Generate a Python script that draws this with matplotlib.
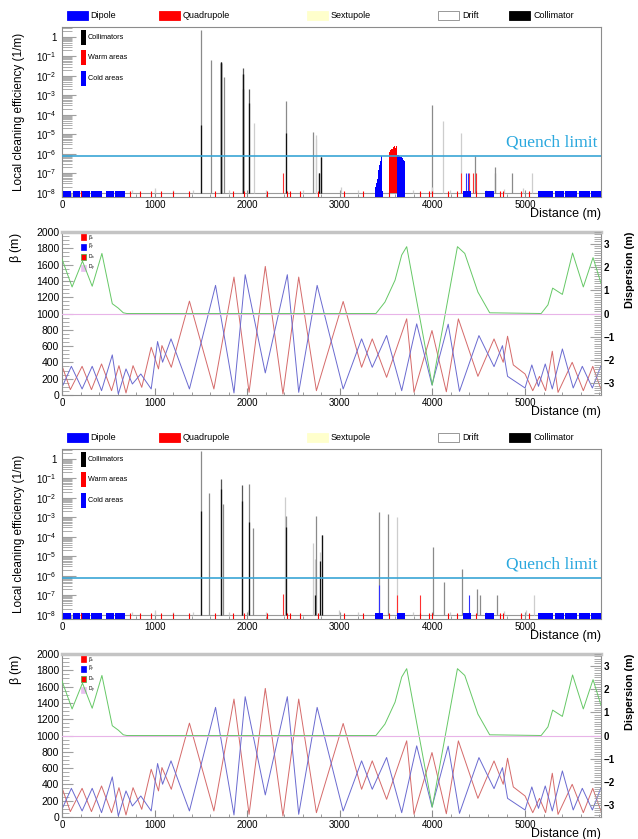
import matplotlib
matplotlib.use('Agg')
import matplotlib.pyplot as plt
from matplotlib.patches import Rectangle
from matplotlib.ticker import MultipleLocator, FixedLocator, FuncFormatter, LogLocator, NullFormatter
import numpy as np

plt.rcParams['font.family'] = ['Liberation Sans', 'DejaVu Sans']
plt.rcParams['mathtext.fontset'] = 'custom'
plt.rcParams['mathtext.rm'] = 'Liberation Sans'
plt.rcParams['mathtext.it'] = 'Liberation Sans:italic'
plt.rcParams['mathtext.default'] = 'regular'

S_MAX = 5820
QUENCH = 7.5e-7

# ---- machine layout (bottom band of the loss maps)
dipole_segs = [(9, 100), (115, 190), (205, 300), (315, 427), (471, 560), (575, 683),
               (3379, 3467), (3622, 3700), (4326, 4414), (4568, 4665), (5141, 5300),
               (5318, 5420), (5436, 5560), (5578, 5700), (5716, 5820)]
quad_s = [207, 736, 846, 956, 1066, 1198, 1374, 1651, 1849, 1968, 2209, 2425, 2461, 2569,
          2766, 3048, 3253, 3534, 3869, 3959, 4000, 4171, 4268, 4471, 4732, 4767, 4953, 5043]

# ---- loss map 1
loss1_s = [1496, 1604, 1712, 1720, 1752, 1950, 1957, 2022, 2072, 2414, 2713, 2738, 2745,
           2777, 2802, 4000, 4118, 4303, 4457, 4671, 4680, 4857, 5078,
           200, 760, 1000, 1198, 1410, 1806, 2202, 2600, 3008, 3199, 3786, 3990, 4189,
           4582, 4778, 4975]
loss1_top = [2.3, 0.063, 0.048, 0.05, 0.0087, 0.026, 0.012, 0.002, 3.8e-5, 4.8e-4, 1.3e-5,
             6e-6, 9e-6, 1e-7, 7e-7, 3.2e-4, 5e-5, 1.1e-5, 7.6e-7, 2.1e-7, 1e-7, 1e-7, 1e-7,
             1.3e-8, 1.3e-8, 1.8e-8, 1.4e-8, 1.4e-8, 1.3e-8, 1.3e-8, 1.3e-8, 2e-8, 1.3e-8,
             1.3e-8, 2e-8, 1.3e-8, 1.3e-8, 1.5e-8, 1.8e-8]
loss1_core = [3e-5, 0, 0.048, 0.05, 0, 0.002, 0.012, 4e-4, 0, 1.1e-5, 0, 0, 0, 1e-7, 7e-7,
              0, 0, 0, 0, 0, 0, 0, 0] + [0] * 16
loss1_shade = [1, 1, 2, 2, 1, 2, 2, 2, 0, 1, 1, 0, 0, 2, 2, 1, 0, 0, 1, 1, 1, 1, 0] + [0] * 16
warm1_s = [2389, 4310, 4400, 4440, 4475]
warm1_v = [1e-7, 1e-7, 1e-7, 1e-7, 1e-7]
cold1_s = [4364, 4385]
cold1_v = [1e-7, 1e-7]
# cluster of losses in the dispersion suppressor
clu_cold_s = [3380, 3388, 3396, 3404, 3412, 3420, 3428, 3436, 3444, 3452,
              3618, 3626, 3634, 3642, 3650, 3658, 3666, 3674, 3682, 3690, 3698]
clu_cold_v = [1.5e-8, 2e-8, 3e-8, 5e-8, 1e-7, 1.5e-7, 2.5e-7, 4e-7, 6e-7, 8e-7,
              9e-7, 9e-7, 8.5e-7, 8e-7, 7.5e-7, 7e-7, 6.5e-7, 6e-7, 5.5e-7, 5e-7, 4e-7]
clu_warm_s = [3538, 3546, 3554, 3562, 3570, 3578, 3586, 3594, 3602, 3610]
clu_warm_v = [1.2e-6, 1.5e-6, 1.8e-6, 2.0e-6, 1.7e-6, 2.2e-6, 2.0e-6, 2.4e-6, 1.9e-6, 2.5e-6]

# ---- loss map 2
loss3_s = [1496, 1590, 1712, 1741, 1946, 2005, 2022, 2065, 2407, 2414, 2709, 2734, 2748,
           2785, 2803, 2994, 3192, 3426, 3523, 3616, 4004, 4128, 4317, 4480, 4515, 4700,
           5008, 5097, 200, 760, 1000, 1198, 1410, 1806, 2202, 3786, 4189, 4582, 4778]
loss3_top = [2.4, 0.018, 0.087, 4.6e-3, 0.045, 1.8e-8, 0.05, 2.7e-4, 0.011, 1.1e-3, 4.6e-5,
             7e-6, 1.1e-3, 1.6e-5, 1.3e-4, 1.8e-8, 1.3e-8, 1.9e-3, 1.5e-3, 1e-3, 3e-5,
             4.5e-7, 2.3e-6, 2.1e-7, 1e-7, 1e-7, 1.8e-8, 1e-7,
             1.3e-8, 1.3e-8, 1.8e-8, 1.4e-8, 1.4e-8, 1.3e-8, 1.3e-8, 1.3e-8, 1.3e-8, 1.3e-8,
             1.5e-8]
loss3_core = [2.2e-3, 0, 0.03, 0, 7e-3, 0, 6e-4, 0, 0, 3.2e-4, 0, 1e-7, 0, 6e-6, 1.3e-4,
              0, 0, 0, 0, 0, 0, 0, 0, 0, 0, 0, 0, 0] + [0] * 11
loss3_shade = [1, 1, 2, 1, 2, 0, 1, 1, 0, 1, 0, 0, 1, 0, 1, 0, 0, 1, 1, 0, 1, 1, 1, 1, 1,
               1, 0, 0] + [0] * 11
warm3_s = [2382, 3616, 3863]
warm3_v = [1.1e-7, 1e-7, 1e-7]
cold3_s = [3422, 4392]
cold3_v = [3.3e-7, 1e-7]

# ---- optics (same in both optics panels)
betx_s = [0, 90, 217, 318, 427, 535, 615, 691, 767, 861, 963, 1042, 1079, 1180, 1376, 1640,
          1857, 2020, 2195, 2386, 2556, 2747, 3036, 3235, 3350, 3505, 3722, 3801, 3995, 4150,
          4280, 4491, 4665, 4764, 4811, 4873, 5000, 5083, 5156, 5222, 5294, 5356, 5509,
          5629, 5731, 5820]
betx = [360, 66, 352, 66, 381, 53, 360, 25, 360, 94, 586, 320, 607, 340, 1152, 74, 1447, 33,
        1578, 12, 1447, 53, 1148, 340, 689, 217, 935, 33, 791, 40, 934, 229, 688, 401, 721,
        369, 258, 53, 229, 53, 537, 32, 401, 53, 352, 70]
bety_s = [0, 101, 217, 326, 427, 543, 608, 691, 760, 851, 963, 1032, 1086, 1177, 1376, 1658,
          1857, 1978, 2195, 2433, 2556, 2755, 3036, 3235, 3350, 3505, 3668, 3830, 3995, 4170,
          4292, 4502, 4665, 4756, 4811, 5000, 5073, 5145, 5218, 5294, 5403, 5520, 5618, 5727,
          5820]
bety = [94, 352, 74, 352, 53, 492, 12, 320, 135, 258, 74, 656, 402, 689, 74, 1345, 25, 1476,
        271, 1476, 33, 1345, 74, 689, 340, 730, 53, 873, 123, 869, 45, 729, 348, 606, 229, 86,
        369, 106, 381, 74, 565, 86, 352, 86, 360]
dx_s = [0, 109, 221, 326, 431, 543, 608, 662, 700, 3390, 3487, 3596, 3668, 3722, 3998, 4270,
        4349, 4491, 4618, 5174, 5247, 5298, 5403, 5513, 5629, 5734, 5820]
dx = [2.34, 1.14, 2.25, 1.17, 2.58, 0.42, 0.23, 0.03, 0.0, 0.0, 0.49, 1.43, 2.51, 2.87,
      -3.08, 2.87, 2.58, 0.92, 0.03, 0.0, 0.37, 1.09, 0.82, 2.6, 1.14, 2.4, 1.3]
dy_s = [0, 5820]
dy = [0.0, 0.0]

W, H = 638, 839
fig = plt.figure(figsize=(W / 100, H / 100), dpi=100)
FR = '#8c8c8c'


def px_axes(left, top, right, bottom):
    return fig.add_axes([left / W, 1 - bottom / H, (right - left) / W, (bottom - top) / H])


def style_frame(ax):
    for sp in ax.spines.values():
        sp.set_color(FR)
        sp.set_linewidth(0.8)


def x_axis(ax):
    ax.set_xlim(0, S_MAX)
    ax.xaxis.set_major_locator(MultipleLocator(1000))
    ax.xaxis.set_minor_locator(MultipleLocator(200))
    ax.tick_params(axis='x', which='both', direction='in', colors=FR, labelcolor='black',
                   labelsize=7, pad=2)
    ax.tick_params(axis='x', which='major', length=5)
    ax.tick_params(axis='x', which='minor', length=2.5)


def top_legend(ycen):
    names = ['Dipole', 'Quadrupole', 'Sextupole', 'Drift', 'Collimator']
    cols = ['#0000ff', '#ff0000', '#ffffcc', '#ffffff', '#000000']
    edges = ['#0000ff', '#ff0000', '#ffffcc', '#888888', '#000000']
    xs = [66.5, 159, 307, 438, 509]
    for n, c, e, x in zip(names, cols, edges, xs):
        fig.patches.append(Rectangle((x / W, 1 - (ycen + 4.5) / H), 21 / W, 9 / H,
                                     transform=fig.transFigure, facecolor=c, edgecolor=e,
                                     lw=0.6))
        fig.text((x + 24) / W, 1 - ycen / H, n, fontsize=6.5, va='center', ha='left')


def loss_panel(top, s, tv, cv, sh, ws, wv, cs, cvv, cluster):
    ax = px_axes(62, top, 601, top + 170)
    ax.set_yscale('log')
    ax.set_ylim(6e-9, 3.2)
    x_axis(ax)
    style_frame(ax)
    shade_cols = ['#cdcdcd', '#8a8a8a', '#555555']
    ax.axhline(1e-8, color='#9a9a9a', lw=0.8, zorder=1)
    ax.vlines(s, 1e-8, tv, colors=[shade_cols[k] for k in sh], lw=0.9, zorder=2)
    cs_, cv_ = [a for a, b in zip(s, cv) if b > 0], [b for b in cv if b > 0]
    ax.vlines(cs_, 1e-8, cv_, colors='#111111', lw=0.9, zorder=3)
    ax.vlines(ws, 1e-8, wv, colors='#ff3030', lw=0.8, zorder=3)
    ax.vlines(cs, 1e-8, cvv, colors='#3030ff', lw=0.8, zorder=3)
    if cluster:
        ax.bar(clu_cold_s, np.array(clu_cold_v) - 1e-8, bottom=1e-8, width=8,
               color='#0000ff', lw=0, zorder=3)
        ax.bar(clu_warm_s, np.array(clu_warm_v) - 1e-8, bottom=1e-8, width=8,
               color='#ff0000', lw=0, zorder=3)
    # machine layout band
    ax.broken_barh([(a, b - a) for a, b in dipole_segs], (5e-9, 7e-9),
                   facecolors='#0000ff', zorder=4)
    ax.vlines(quad_s, 5e-9, 1.2e-8, colors='#ff0000', lw=0.8, zorder=4)
    ax.axhline(QUENCH, color='#3aa6d6', lw=1.2, zorder=5)
    ax.text(0.994, 0.318, 'Quench limit', transform=ax.transAxes, ha='right', va='center',
            fontsize=12.5, color='#2aa8de', family='Liberation Serif')
    ax.yaxis.set_major_locator(FixedLocator([10.0 ** k for k in range(-8, 1)]))
    ax.yaxis.set_minor_locator(LogLocator(base=10, subs=range(2, 10), numticks=20))
    ax.yaxis.set_minor_formatter(NullFormatter())
    ax.yaxis.set_major_formatter(FuncFormatter(
        lambda v, p: '1' if abs(v - 1) < 1e-9 else r'$10^{%d}$' % round(np.log10(v))))
    ax.tick_params(axis='y', which='both', direction='in', colors='#a0a0a0',
                   labelcolor='black', labelsize=7, pad=4)
    ax.tick_params(axis='y', which='major', length=10)
    ax.tick_params(axis='y', which='minor', length=7)
    ax.set_ylabel('Local cleaning efficiency (1/m)', fontsize=8.5)
    ax.yaxis.set_label_coords(-0.068, 0.5)
    ax.text(1.0, -0.1, 'Distance (m)', transform=ax.transAxes, ha='right', va='center',
            fontsize=9)
    # inner legend
    for yb, c, n in [(0.894, '#000000', 'Collimators'), (0.776, '#ff0000', 'Warm areas'),
                     (0.653, '#0000ff', 'Cold areas')]:
        ax.add_patch(Rectangle((0.035, yb), 0.0095, 0.088, transform=ax.transAxes,
                               facecolor=c, edgecolor='none', zorder=6))
        ax.text(0.048, yb + 0.044, n, transform=ax.transAxes, fontsize=5.2, va='center',
                ha='left', zorder=6)
    top_legend(top - 12)
    return ax


def optics_panel(top):
    ax = px_axes(62, top, 601, top + 163)
    ax.set_ylim(0, 2000)
    x_axis(ax)
    style_frame(ax)
    ax.spines['top'].set_linewidth(2.5)
    ax.spines['top'].set_color('#c4c4c4')
    ax.plot(betx_s, betx, color='#d56a6a', lw=0.7)
    ax.plot(bety_s, bety, color='#6a6ad0', lw=0.7)
    ax.yaxis.set_major_locator(MultipleLocator(200))
    ax.yaxis.set_minor_locator(MultipleLocator(50))
    ax.tick_params(axis='y', which='both', direction='in', colors='#a0a0a0',
                   labelcolor='black', labelsize=7.5, pad=2)
    ax.tick_params(axis='y', which='major', length=8)
    ax.tick_params(axis='y', which='minor', length=5)
    ax.set_ylabel(r'$\beta$ (m)', fontsize=9, loc='top')
    ax.yaxis.set_label_coords(-0.07, 1.0)
    ax2 = ax.twinx()
    ax2.set_ylim(-3.5, 3.5)
    ax2.plot(dx_s, dx, color='#66c866', lw=0.7)
    ax2.plot(dy_s, dy, color='#e8b4e8', lw=0.8)
    for sp in ax2.spines.values():
        sp.set_visible(False)
    ax2.yaxis.set_major_locator(MultipleLocator(1))
    ax2.yaxis.set_minor_locator(MultipleLocator(0.1))
    ax2.tick_params(axis='y', which='both', direction='in', colors='#a0a0a0',
                    labelcolor='black', labelsize=7, pad=2)
    ax2.tick_params(axis='y', which='major', length=8)
    ax2.tick_params(axis='y', which='minor', length=5)
    for lab in ax2.get_yticklabels():
        lab.set_fontweight('bold')
    ax2.set_ylabel('Dispersion (m)', fontsize=7.8, fontweight='bold', loc='top')
    ax2.yaxis.set_label_coords(1.045, 1.0)
    ax.text(1.0, -0.105, 'Distance (m)', transform=ax.transAxes, ha='right', va='center',
            fontsize=8.8)
    for yc, c, e, n in [(0.969, '#ff0000', '#ff0000', r'$\beta_x$'),
                        (0.908, '#0000ff', '#0000ff', r'$\beta_y$'),
                        (0.847, '#ff0000', '#44aa44', r'$D_x$'),
                        (0.779, '#e8c0f0', '#e8c0f0', r'$D_y$')]:
        ax.add_patch(Rectangle((0.0347, yc - 0.018), 0.0098, 0.036, transform=ax.transAxes,
                               facecolor=c, edgecolor=e, lw=0.5, zorder=6))
        ax.text(0.049, yc, n, transform=ax.transAxes, fontsize=3.5, va='center', ha='left')
    return ax


loss_panel(27, loss1_s, loss1_top, loss1_core, loss1_shade, warm1_s, warm1_v,
           cold1_s, cold1_v, True)
optics_panel(232)
loss_panel(449, loss3_s, loss3_top, loss3_core, loss3_shade, warm3_s, warm3_v,
           cold3_s, cold3_v, False)
optics_panel(654)

fig.savefig('out.png', dpi=100)
